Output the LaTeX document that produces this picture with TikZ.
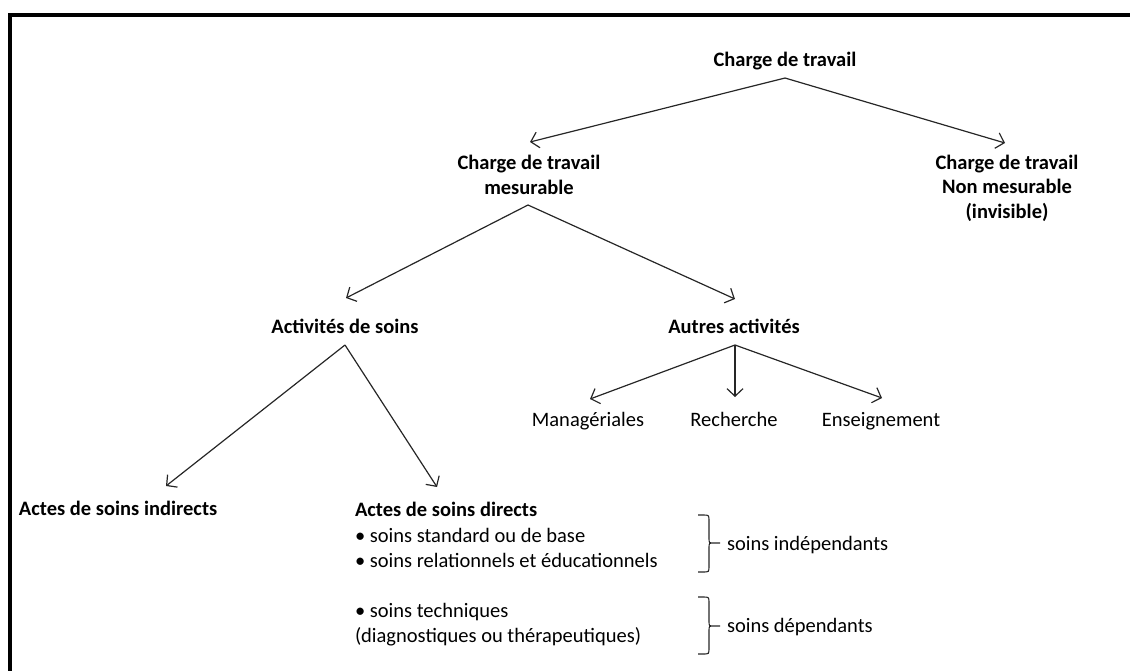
\documentclass[tikz,border=0pt]{standalone}
\usepackage{fontspec}
\setmainfont{Carlito}
\usetikzlibrary{arrows.meta}
\begin{document}
\begin{tikzpicture}[x=1pt,y=-1pt,
  txt/.style={inner sep=0pt,outer sep=0pt,font=\fontsize{20.5}{24.5}\selectfont},
  hd/.style={txt,font=\fontsize{20.5}{24.5}\selectfont\bfseries},
  conn/.style={line width=1.2pt,draw=black!85,-{Straight Barb[length=7.5pt,width=16pt,line width=1.2pt]}},
  brc/.style={line width=1.1pt,draw=black!85}]
\useasboundingbox (0,0) rectangle (1130,670);
\begin{scope}
\clip (0,0) rectangle (1130,670);
\draw[line width=4.5pt] (10,690) -- (10,15) -- (1150,15);
\end{scope}

% nodes
\node[hd,anchor=base] (ct) at (785,66) {Charge de travail};
\node[hd,anchor=base,align=center] (ctm) at (529,194) {Charge de travail\\mesurable};
\node[hd,anchor=base,align=center] (ctn) at (1007,218) {Charge de travail\\Non mesurable\\(invisible)};
\node[hd,anchor=base] (as) at (345,333) {Activités de soins};
\node[hd,anchor=base] (aa) at (734,333) {Autres activités};
\node[txt,anchor=base] (man) at (588,426) {Managériales};
\node[txt,anchor=base] (rec) at (734,426) {Recherche};
\node[txt,anchor=base] (ens) at (881,426) {Enseignement};
\node[hd,anchor=base west] (asi) at (19,515) {Actes de soins indirects};
\node[hd,anchor=base west] (asd) at (355,516) {Actes de soins directs};
\node[txt,anchor=base west] (sb1) at (355,542) {• soins standard ou de base};
\node[txt,anchor=base west] (sb2) at (355,567) {• soins relationnels et éducationnels};
\node[txt,anchor=base west] (st1) at (355,617) {• soins techniques};
\node[txt,anchor=base west] (st2) at (355,642) {(diagnostiques ou thérapeutiques)};
\node[txt,anchor=base west] (sind) at (727,550) {soins indépendants};
\node[txt,anchor=base west] (sdep) at (727,632) {soins dépendants};

% connector end points
\coordinate (ct-o) at (785,78);
\coordinate (ctm-i) at (530,142);
\coordinate (ctn-i) at (1005,143);
\coordinate (ctm-o) at (528,205);
\coordinate (as-i) at (346,298);
\coordinate (aa-i) at (735,299);
\coordinate (as-o) at (345,345);
\coordinate (asi-i) at (166,486);
\coordinate (asd-i) at (437,487);
\coordinate (aa-o) at (735,345);
\coordinate (man-i) at (590,399);
\coordinate (rec-i) at (735,397);
\coordinate (ens-i) at (882,398);

\draw[conn] (ct-o) -- (ctm-i);
\draw[conn] (ct-o) -- (ctn-i);
\draw[conn] (ctm-o) -- (as-i);
\draw[conn] (ctm-o) -- (aa-i);
\draw[conn] (as-o) -- (asi-i);
\draw[conn] (as-o) -- (asd-i);
\draw[conn] (aa-o) -- (man-i);
\draw[conn] (aa-o) -- (rec-i);
\draw[conn] (aa-o) -- (ens-i);

% braces
\coordinate (b1) at (720,543);
\coordinate (b2) at (720,626);
\draw[brc] (698,515) -- (703,515) .. controls (709,515) .. (709,521) -- (709,538) .. controls (709,543) .. (714,543)
  (698,572) -- (703,572) .. controls (709,572) .. (709,566) -- (709,548) .. controls (709,543) .. (714,543) -- (b1);
\draw[brc] (698,597) -- (703,597) .. controls (709,597) .. (709,603) -- (709,621) .. controls (709,626) .. (714,626)
  (698,654) -- (703,654) .. controls (709,654) .. (709,648) -- (709,631) .. controls (709,626) .. (714,626) -- (b2);
\end{tikzpicture}
\end{document}
